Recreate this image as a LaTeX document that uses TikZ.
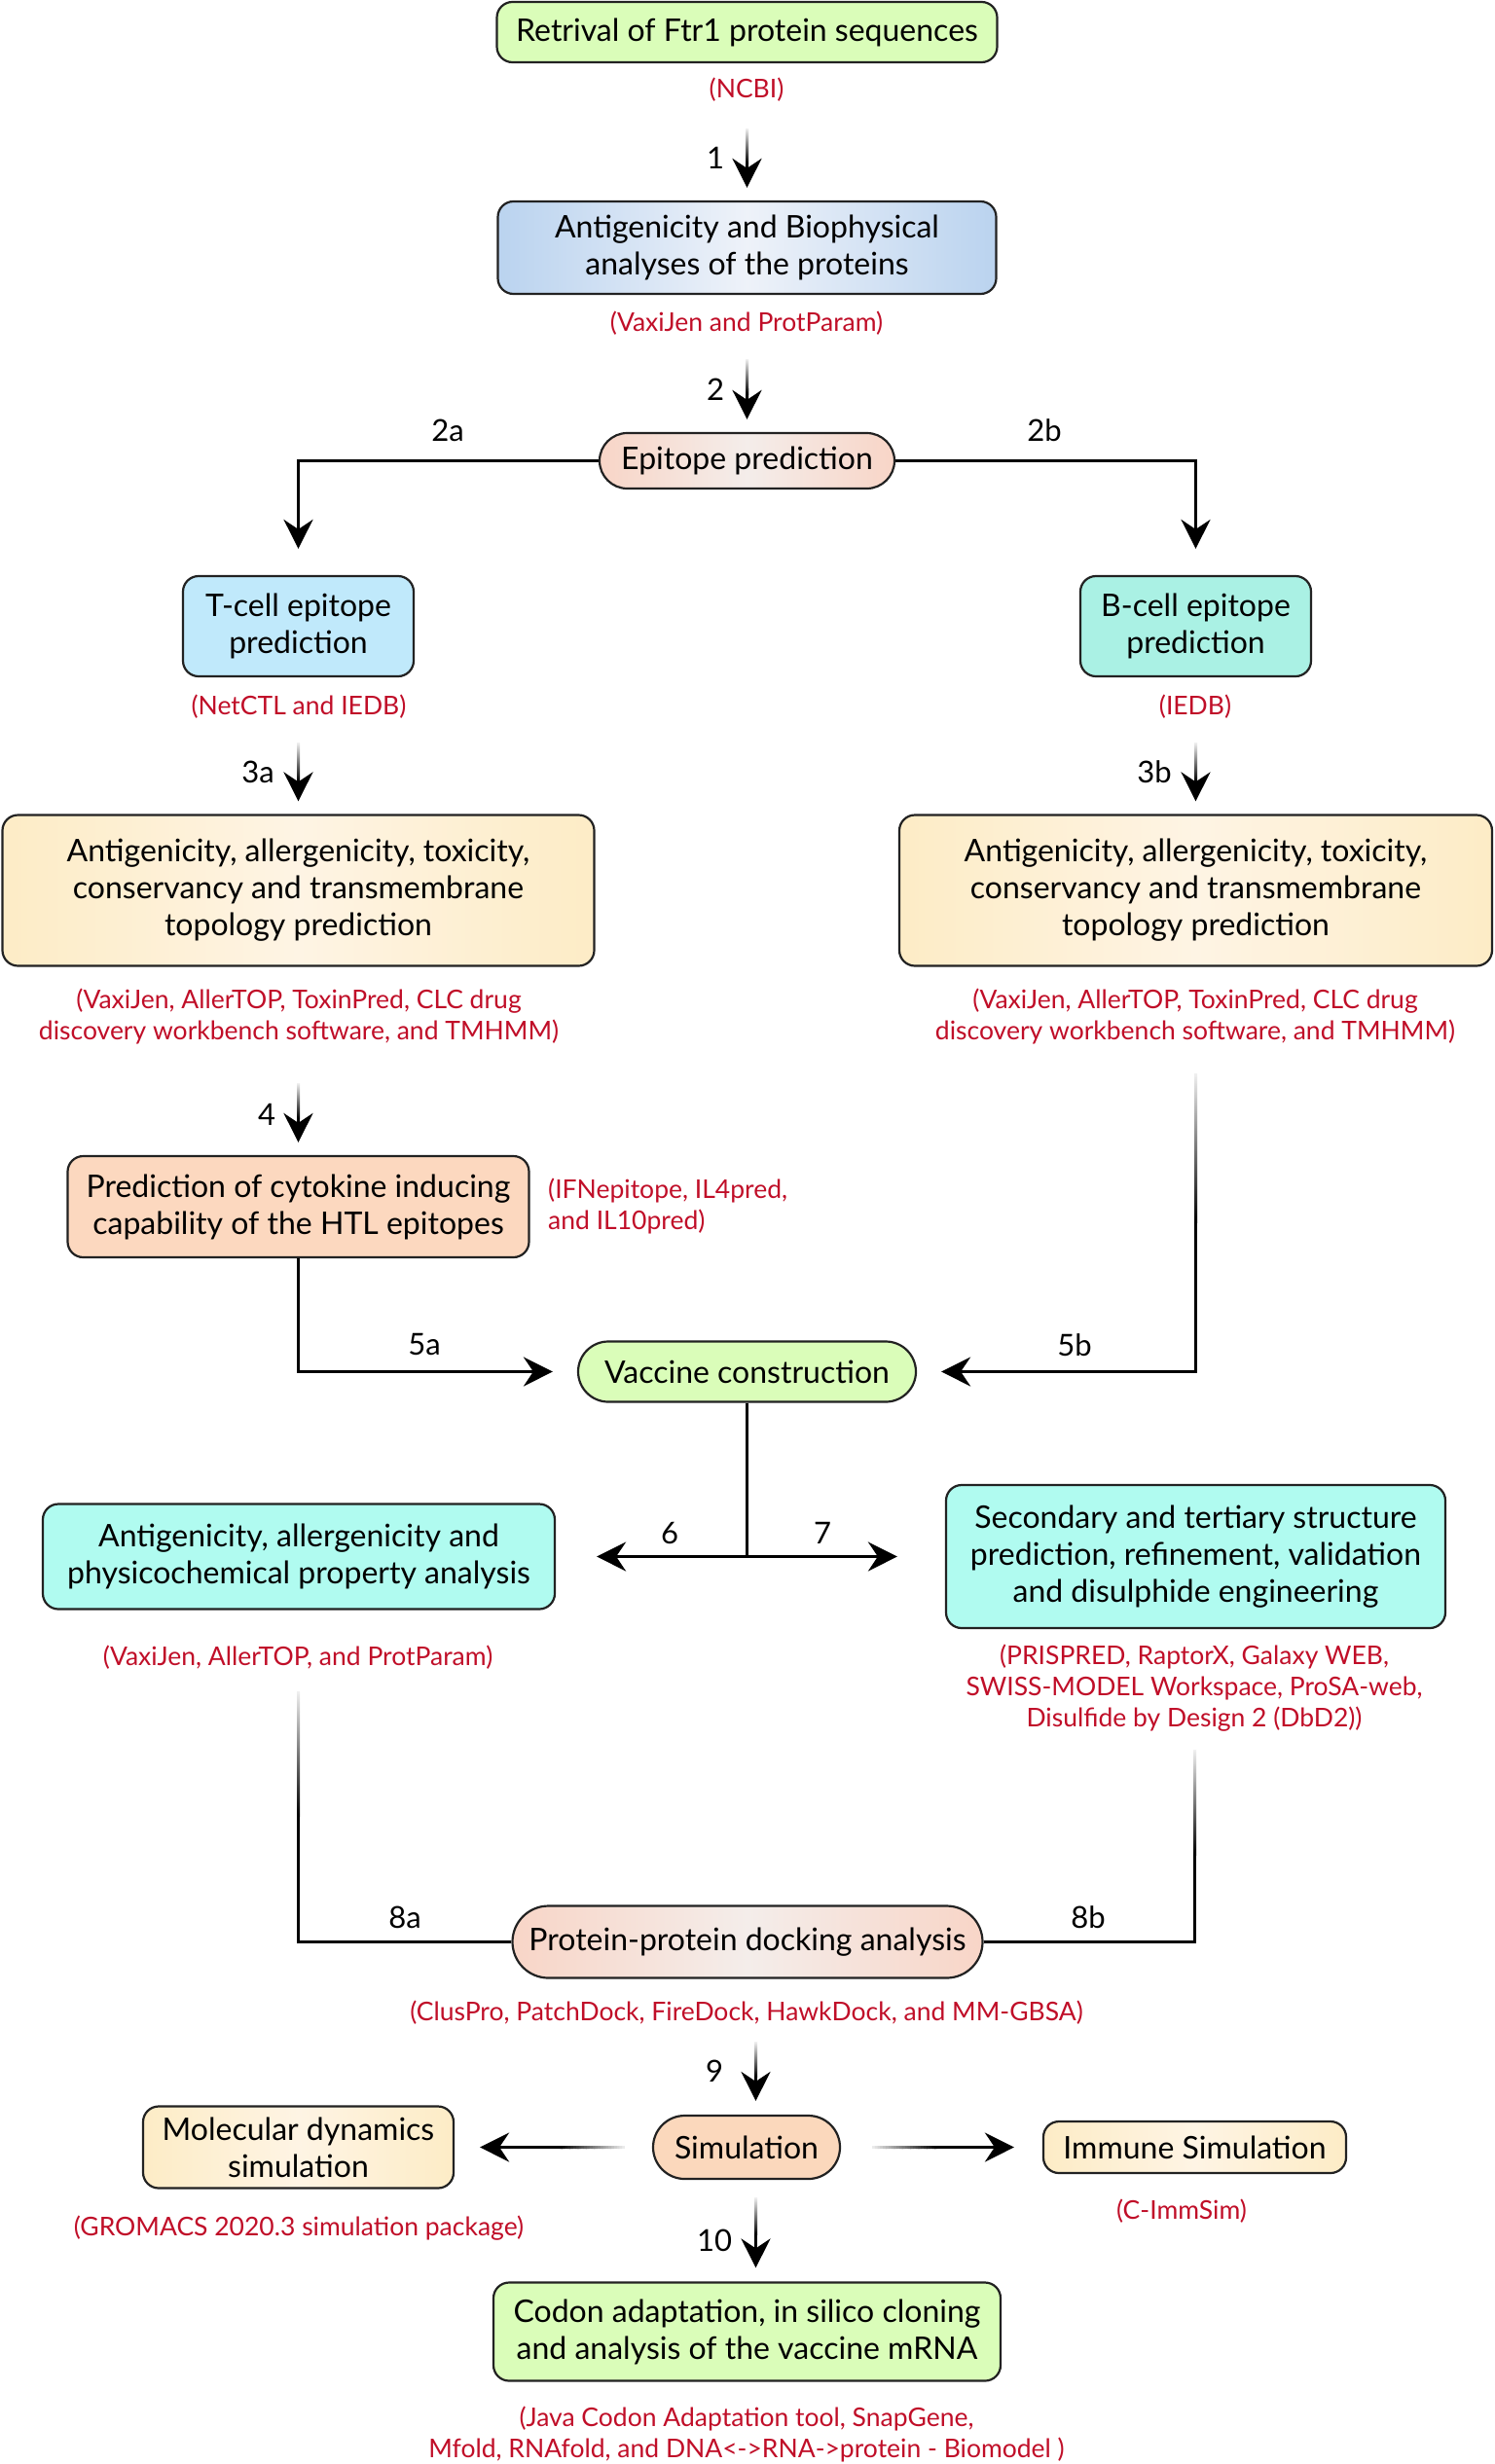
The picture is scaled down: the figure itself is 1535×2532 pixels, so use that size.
\documentclass[tikz,border=0pt]{standalone}
\usepackage{fontspec}
\setmainfont{Lato}
\usetikzlibrary{arrows.meta,shapes.misc,calc}
\definecolor{redc}{RGB}{192,14,40}
\definecolor{boxline}{RGB}{34,34,34}
\definecolor{greenc}{RGB}{218,253,185}
\definecolor{blueE}{RGB}{186,211,239}
\definecolor{blueM}{RGB}{238,242,249}
\definecolor{peachE}{RGB}{248,213,199}
\definecolor{peachM}{RGB}{244,237,234}
\definecolor{tcellc}{RGB}{192,233,251}
\definecolor{bcellc}{RGB}{170,241,228}
\definecolor{yelE}{RGB}{253,236,198}
\definecolor{yelM}{RGB}{254,244,228}
\definecolor{cytoc}{RGB}{252,216,191}
\definecolor{cyanc}{RGB}{176,251,240}
\definecolor{simc}{RGB}{251,216,188}
\begin{document}
\begin{tikzpicture}[x=1pt,y=-1pt,
  box/.style={draw=boxline, line width=2.2pt, rounded corners=16pt, align=center,
    font=\fontsize{32}{38}\selectfont, inner sep=0pt},
  pill/.style={draw=boxline, line width=2.2pt, rounded rectangle, align=center,
    font=\fontsize{32}{38}\selectfont, inner sep=0pt},
  redtxt/.style={text=redc, font=\fontsize{26.5}{32}\selectfont, align=center, inner sep=0pt},
  lab/.style={font=\fontsize{31}{36}\selectfont, inner sep=0pt},
  conn/.style={line width=3pt, draw=black},
  arr/.style={conn, -{Stealth[length=30pt,width=30pt,inset=10pt]}},
  greenbox/.style={fill=greenc},
  yelgrad/.style={left color=yelE, right color=yelE, middle color=yelM},
  peachgrad/.style={left color=peachE, right color=peachE, middle color=peachM},
]
\useasboundingbox (0,0) rectangle (1535,2532);

% ---------- nodes ----------
\node[box, greenbox, minimum width=514, minimum height=62] (n1) at (767.5,33) {Retrival of Ftr1 protein sequences};
\node[redtxt] (r1) at (767,92) {(NCBI)};
\node[box, left color=blueE, right color=blueE, middle color=blueM, minimum width=512, minimum height=95] (n2) at (767.5,254.5) {Antigenicity and Biophysical\\analyses of the proteins};
\node[redtxt] (r2) at (767,332) {(VaxiJen and ProtParam)};
\node[pill, peachgrad, minimum width=303, minimum height=57] (n3) at (767.5,473.5) {Epitope prediction};

\node[box, fill=tcellc, minimum width=237, minimum height=103] (n4) at (306.5,643.5) {T-cell epitope\\prediction};
\node[box, fill=bcellc, minimum width=237, minimum height=103] (n5) at (1228.5,643.5) {B-cell epitope\\prediction};
\node[redtxt] (r4) at (307,726) {(NetCTL and IEDB)};
\node[redtxt] (r5) at (1228,726) {(IEDB)};

\node[box, yelgrad, minimum width=608, minimum height=155] (n6) at (306.5,915) {Antigenicity, allergenicity, toxicity,\\conservancy and transmembrane\\topology prediction};
\node[box, yelgrad, minimum width=609, minimum height=155] (n7) at (1228.5,915) {Antigenicity, allergenicity, toxicity,\\conservancy and transmembrane\\topology prediction};
\node[redtxt] (r6) at (307,1044) {(VaxiJen, AllerTOP, ToxinPred, CLC drug\\discovery workbench software, and TMHMM)};
\node[redtxt] (r7) at (1228,1044) {(VaxiJen, AllerTOP, ToxinPred, CLC drug\\discovery workbench software, and TMHMM)};

\node[box, fill=cytoc, minimum width=474, minimum height=104] (n8) at (306.5,1240) {Prediction of cytokine inducing\\capability of the HTL epitopes};
\node[redtxt, align=left, anchor=west] (r8) at (563,1239) {(IFNepitope, IL4pred,\\and IL10pred)};

\node[pill, greenbox, minimum width=347, minimum height=62] (n9) at (767.5,1409.5) {Vaccine construction};

\node[box, fill=cyanc, minimum width=526, minimum height=108] (n10) at (307,1599.5) {Antigenicity, allergenicity and\\physicochemical property analysis};
\node[box, fill=cyanc, minimum width=513, minimum height=147] (n11) at (1228.5,1599.5) {Secondary and tertiary structure\\prediction, refinement, validation\\and disulphide engineering};
\node[redtxt] (r10) at (306,1703) {(VaxiJen, AllerTOP, and ProtParam)};
\node[redtxt] (r11) at (1227,1735) {(PRISPRED, RaptorX, Galaxy WEB,\\SWISS-MODEL Workspace, ProSA-web,\\Disulfide by Design 2 (DbD2))};

\node[pill, peachgrad, minimum width=483, minimum height=74] (n12) at (768,1995.5) {Protein-protein docking analysis};
\node[redtxt] (r12) at (767,2068) {(ClusPro, PatchDock, FireDock, HawkDock, and MM-GBSA)};

\node[pill, fill=simc, minimum width=192, minimum height=65] (n13) at (767,2206.5) {Simulation};
\node[box, yelgrad, minimum width=319, minimum height=84] (n14) at (306.5,2206.5) {Molecular dynamics\\simulation};
\node[box, yelgrad, minimum width=311, minimum height=53] (n15) at (1227.5,2206.5) {Immune Simulation};
\node[redtxt] (r14) at (307,2290) {(GROMACS 2020.3 simulation package)};
\node[redtxt] (r15) at (1214,2272) {(C-ImmSim)};

\node[box, greenbox, minimum width=521, minimum height=101] (n16) at (767.5,2396) {Codon adaptation, in silico cloning\\and analysis of the vaccine mRNA};
\node[redtxt] (r16) at (767,2501) {(Java Codon Adaptation tool, SnapGene,\\Mfold, RNAfold, and DNA<->RNA->protein - Biomodel )};

% ---------- step labels ----------
\node[lab] (l1) at (735,162) {1};
\node[lab] (l2) at (735,400) {2};
\node[lab] (l2a) at (460,442) {2a};
\node[lab] (l2b) at (1073,442) {2b};
\node[lab] (l3a) at (265,793) {3a};
\node[lab] (l3b) at (1186,793) {3b};
\node[lab] (l4) at (274,1145) {4};
\node[lab] (l5a) at (436,1382) {5a};
\node[lab] (l5b) at (1104,1382) {5b};
\node[lab] (l6) at (688,1575) {6};
\node[lab] (l7) at (845,1575) {7};
\node[lab] (l8a) at (416,1970) {8a};
\node[lab] (l8b) at (1118,1970) {8b};
\node[lab] (l9) at (734,2128) {9};
\node[lab] (l10) at (734,2302) {10};

% ---------- fade coordinates ----------
\coordinate (f1a) at (767.5,132);  \coordinate (f1b) at (767.5,162);
\coordinate (f2a) at (767.5,369);  \coordinate (f2b) at (767.5,399);
\coordinate (f3aa) at (306.5,763); \coordinate (f3ab) at (306.5,797);
\coordinate (f3ba) at (1228.5,763); \coordinate (f3bb) at (1228.5,797);
\coordinate (f4a) at (306.5,1113); \coordinate (f4b) at (306.5,1143);
\coordinate (f5ba) at (1228.5,1103); \coordinate (f5bb) at (1228.5,1250);
\coordinate (c67) at (767.5,1599.5);
\coordinate (f8aa) at (306.5,1738); \coordinate (f8ab) at (306.5,1860);
\coordinate (f8ba) at (1227.5,1798); \coordinate (f8bb) at (1227.5,1900);
\coordinate (f9a) at (776.5,2098); \coordinate (f9b) at (776.5,2128);
\coordinate (fla) at (642,2206.5); \coordinate (flb) at (575,2206.5);
\coordinate (fra) at (896,2206.5); \coordinate (frb) at (963,2206.5);
\coordinate (f10a) at (776.5,2258); \coordinate (f10b) at (776.5,2290);

% ---------- connectors (solid parts) ----------
\draw[arr, shorten >=13pt] (f1b) -- (n2);
\draw[arr, shorten >=13pt] (f2b) -- (n3);
\draw[arr, shorten >=27pt] (n3.west) -| (n4);
\draw[arr, shorten >=27pt] (n3.east) -| (n5);
\draw[arr, shorten >=13pt] (f3ab) -- (n6);
\draw[arr, shorten >=13pt] (f3bb) -- (n7);
\draw[arr, shorten >=13pt] (f4b) -- (n8);
\draw[arr, shorten >=25pt] (n8.south) |- (n9);
\draw[arr, shorten >=25pt] (f5bb) |- (n9);
\draw[conn] (n9.south) -- (c67);
\draw[arr, shorten >=42pt] (c67) -- (n10);
\draw[arr, shorten >=49pt] (c67) -- (n11);
\draw[conn] (f8ab) |- (n12);
\draw[conn] (f8bb) |- (n12);
\draw[arr, shorten >=14pt] (f9b) -- (f9b |- n13.north);
\draw[arr, shorten >=26pt] (flb) -- (n14);
\draw[arr, shorten >=29pt] (frb) -- (n15);
\draw[arr, shorten >=14pt] (f10b) -- (f10b |- n16.north);

% ---------- faded parts ----------
\foreach \a/\b in {f1a/f1b,f2a/f2b,f3aa/f3ab,f3ba/f3bb,f4a/f4b,f5ba/f5bb,f8aa/f8ab,f8ba/f8bb,f9a/f9b,f10a/f10b}{
  \shade[top color=black!6, bottom color=black] ($(\a)+(-1.5,0)$) rectangle ($(\b)+(1.5,6)$);
}
\foreach \i in {0,...,23}{
  \pgfmathsetmacro{\ta}{\i/24}
  \pgfmathsetmacro{\tb}{min(1,(\i+1.4)/24)}
  \pgfmathsetmacro{\g}{6+94*(\i+0.5)/24}
  \draw[line width=3pt, draw=black!\g] ($(fla)!\ta!(flb)$) -- ($(fla)!\tb!(flb)$);
  \draw[line width=3pt, draw=black!\g] ($(fra)!\ta!(frb)$) -- ($(fra)!\tb!(frb)$);
}
\end{tikzpicture}
\end{document}
